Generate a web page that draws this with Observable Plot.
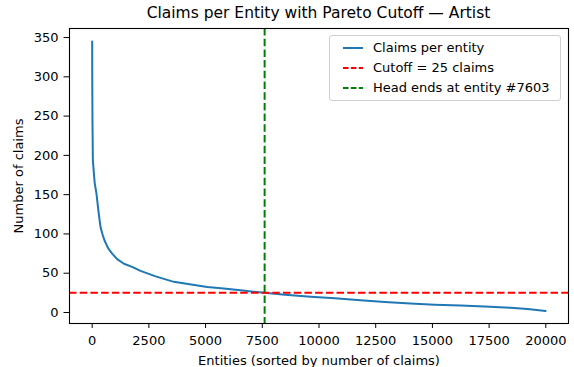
<!DOCTYPE html>
<html>
<head>
<meta charset="utf-8">
<script src="https://cdn.jsdelivr.net/npm/d3@7"></script>
<script src="https://cdn.jsdelivr.net/npm/@observablehq/plot@0.6"></script>
<style>
  html, body { margin: 0; padding: 0; background: #fff; }
  #wrap { position: relative; width: 574px; height: 367px; font-family: "DejaVu Sans", sans-serif; color: #000; }
  #title { position: absolute; left: 69px; width: 499px; top: 3px; text-align: center; font-size: 15.5px; line-height: 20px; white-space: nowrap; }
  #spacer { height: 24px; }
  #legend { position: absolute; left: 329px; top: 35px; width: 230px; height: 64px; border: 1px solid #d0d0d0; border-radius: 3px; background: rgba(255,255,255,0.8); }
  .row { position: absolute; left: 0; height: 20px; width: 100%; }
  .row svg { position: absolute; left: 12px; top: 0; }
  .row span { position: absolute; left: 43px; top: 0; font-size: 13px; line-height: 20px; white-space: nowrap; }
  svg.plot text { fill: #000; }
</style>
</head>
<body>
<div id="wrap">
  <div id="title"></div>
  <div id="spacer"></div>
  <div id="chart"></div>
  <div id="legend"></div>
</div>
<script>
// ---- data ----
const titleText = "Claims per Entity with Pareto Cutoff \u2014 Artist";
const xLabel = "Entities (sorted by number of claims)";
const yLabel = "Number of claims";

const entityRank = [0, 3, 13, 30, 70, 110, 190, 280, 366, 450, 540, 700, 880, 1100, 1400, 1760, 2130, 2800, 3600, 4300, 5070, 5800, 6540, 7603, 8500, 9630, 10700, 11830, 12900, 14030, 15100, 16240, 17300, 18440, 19200, 19990];
const claims     = [345, 300, 242, 194, 179, 165, 151, 128, 109, 100, 92, 82, 75, 68, 62, 58, 53, 46, 39, 36, 32.6, 30.5, 28.4, 25, 22.5, 20, 18, 15.6, 13.5, 11.4, 10, 8.9, 7.5, 5.9, 4.5, 2];

const cutoffClaims = 25;
const headEndEntity = 7603;

const xTicks = [0, 2500, 5000, 7500, 10000, 12500, 15000, 17500, 20000];
const yTicks = [0, 50, 100, 150, 200, 250, 300, 350];

const legendLabels = ["Claims per entity", "Cutoff = 25 claims", "Head ends at entity #7603"];
const legendColors = ["#1f77b4", "#ff0000", "#008000"];
const legendDashed = [false, true, true];

// ---- build ----
const series = entityRank.map((e, i) => ({entity: e, claims: claims[i]}));

document.getElementById("title").textContent = titleText;

const chart = Plot.plot({
  width: 574,
  height: 343,
  marginTop: 4,
  marginBottom: 44,
  marginLeft: 69,
  marginRight: 6,
  style: {fontFamily: "DejaVu Sans, sans-serif", fontSize: "13px", background: "#fff", color: "#000", overflow: "visible"},
  x: {domain: [-1000, 21000], ticks: xTicks, tickFormat: d => String(d), label: null},
  y: {domain: [-14, 361.5], ticks: yTicks, tickFormat: d => String(d), label: null},
  marks: [
    Plot.line(series, {x: "entity", y: "claims", stroke: "#1f77b4", strokeWidth: 2, strokeLinejoin: "round"}),
    Plot.ruleY([cutoffClaims], {stroke: "#ff0000", strokeWidth: 2, strokeDasharray: "7.5,3.2"}),
    Plot.ruleX([headEndEntity], {stroke: "#008000", strokeWidth: 2, strokeDasharray: "7.5,3.2"}),
    Plot.frame({stroke: "#000", strokeWidth: 1.1}),
    Plot.axisX({ticks: xTicks, tickSize: 5, tickPadding: 7, tickFormat: d => String(d), label: xLabel, labelAnchor: "center", labelArrow: "none", labelOffset: 41, stroke: "#000"}),
    Plot.axisY({ticks: yTicks, tickSize: 5.5, tickPadding: 5.5, tickFormat: d => String(d), label: yLabel, labelAnchor: "center", labelArrow: "none", labelOffset: 56, stroke: "#000"})
  ]
});
chart.classList.add("plot");
document.getElementById("chart").appendChild(chart);

// legend
const legend = document.getElementById("legend");
legendLabels.forEach((lab, i) => {
  const row = document.createElement("div");
  row.className = "row";
  row.style.top = (1.5 + i * 20) + "px";
  const ns = "http://www.w3.org/2000/svg";
  const s = document.createElementNS(ns, "svg");
  s.setAttribute("width", 22); s.setAttribute("height", 20);
  const l = document.createElementNS(ns, "line");
  l.setAttribute("x1", 1); l.setAttribute("x2", 21);
  l.setAttribute("y1", 10); l.setAttribute("y2", 10);
  l.setAttribute("stroke", legendColors[i]);
  l.setAttribute("stroke-width", 2);
  if (legendDashed[i]) l.setAttribute("stroke-dasharray", "5.5,2.4");
  s.appendChild(l);
  const t = document.createElement("span");
  t.textContent = lab;
  row.appendChild(s); row.appendChild(t);
  legend.appendChild(row);
});
</script>
</body>
</html>
